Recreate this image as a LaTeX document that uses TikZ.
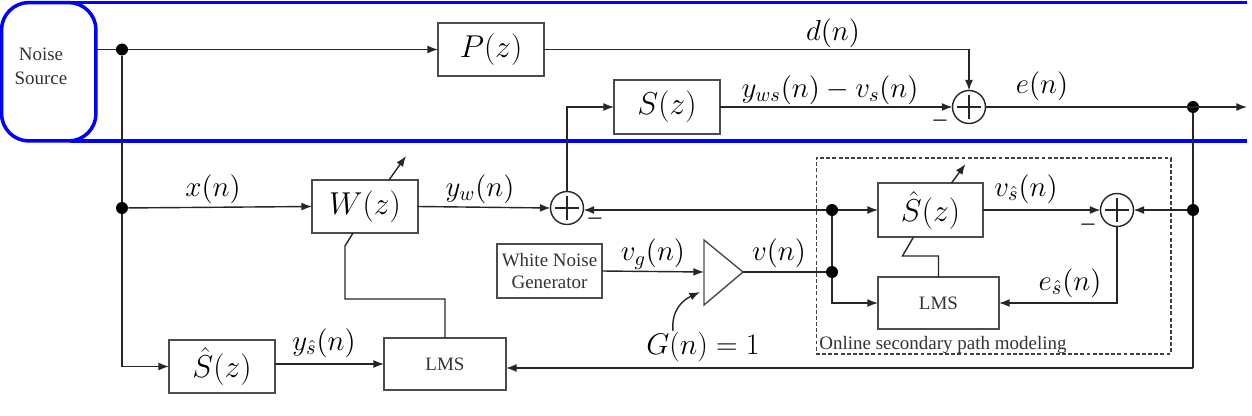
\RequirePackage{fix-cm}
\documentclass[tikz,border=0pt]{standalone}
\usepackage{fontspec}
\newfontfamily\tms{Liberation Serif}
\usetikzlibrary{arrows.meta,calc}
\begin{document}
\begin{tikzpicture}[x=0.02cm,y=-0.02cm,
  blk/.style={draw=black!70, line width=0.8pt, fill=white, inner sep=0, outer sep=0,
    font=\fontsize{18}{21}\selectfont},
  sm/.style={font=\tms\fontsize{10.8}{13.5}\selectfont, text=black!80, align=center},
  lab/.style={font=\fontsize{16.5}{19}\selectfont, inner sep=0},
  conn/.style={line width=0.8pt, draw=black!85},
  arr/.style={conn, -{Latex[length=6pt,width=4.5pt]}},
  sumc/.style={circle, draw=black!85, line width=0.8pt, fill=white, minimum size=0.66cm, inner sep=0, outer sep=0,
    path picture={\draw[line width=0.7pt]
      ([xshift=-0.24cm]path picture bounding box.center) -- ([xshift=0.24cm]path picture bounding box.center)
      ([yshift=-0.24cm]path picture bounding box.center) -- ([yshift=0.24cm]path picture bounding box.center);}},
  dot/.style={circle, fill=black, inner sep=0, minimum size=0.24cm},
  minus/.style={font=\fontsize{11}{13}\selectfont\boldmath, inner sep=0},
  blueline/.style={draw=blue, line width=2pt},
]
\useasboundingbox (0,0) rectangle (1252,416);

% noise source band
\node[draw=blue, line width=2pt, rounded corners=0.55cm, minimum width=1.89cm, minimum height=2.77cm, outer sep=0] (ns) at (48.75,71.75) {};
\node[sm] (nst) at (41,66) {Noise\\Source};
\draw[blueline] (70,2.5) -- (1247,2.5);
\draw[blueline] (70,141) -- (1247,141);

% blocks
\node[blk, minimum width=2.12cm, minimum height=1.06cm] (P) at (491,49.5) {$P(z)$};
\node[blk, minimum width=2.12cm, minimum height=1.08cm] (S) at (667,107) {$S(z)$};
\node[blk, minimum width=2.12cm, minimum height=1.06cm] (W) at (365,206.5) {$W(z)$};
\node[blk, minimum width=2.10cm, minimum height=1.08cm] (Sh1) at (930.5,210) {$\hat S(z)$};
\node[blk, minimum width=2.42cm, minimum height=1.04cm, font=\tms\fontsize{10.8}{13}\selectfont, text=black!80] (LMS2) at (938.5,303) {LMS};
\node[blk, minimum width=2.12cm, minimum height=1.06cm] (Sh2) at (222,366.5) {$\hat S(z)$};
\node[blk, minimum width=2.44cm, minimum height=1.04cm, font=\tms\fontsize{10.8}{13}\selectfont, text=black!80] (LMS1) at (445,364) {LMS};
\node[blk, minimum width=2.10cm, minimum height=1.08cm, font=\tms\fontsize{10.8}{13}\selectfont, text=black!80, align=center] (WNG) at (549.5,271) {White Noise\\Generator};

% amplifier
\draw[draw=black!70, line width=0.8pt] (704,240) -- (743,272) -- (704,305) -- cycle;
\coordinate (ampin) at (704,272);
\coordinate (ampout) at (743,272);

% sums
\node[sumc] (s0) at (969,107) {};
\node[sumc] (s1) at (567,208) {};
\node[sumc] (s2) at (1117,210) {};

% dots
\node[dot] (dA) at (122,49.5) {};
\node[dot] (dB) at (122,208) {};
\node[dot] (dC) at (1193,107) {};
\node[dot] (dD) at (1193,210) {};
\node[dot] (dE) at (832,210) {};
\node[dot] (dF) at (832,272) {};
\coordinate (out) at (1247,107);
\coordinate (fb) at (1193,368);
\coordinate (wk) at (345,299);
\coordinate (gs) at (673,331);

% dashed box
\node[draw=black!75, dash pattern=on 2.2pt off 1.3pt, line width=0.6pt, minimum width=7.1cm, minimum height=3.92cm, inner sep=0] (osp) at (993.5,256) {};
\node[sm, anchor=base west, inner sep=0] (ospt) at (819,349) {Online secondary path modeling};

% connections
\draw[conn] (ns.east |- dA) -- (dA);
\draw[arr] (dA) -- (P.west);
\draw[arr] (P.east) -| (s0.north);
\draw[arr] (S.east) -- (s0.west);
\draw[arr] (s0.east) -- (out);
\draw[conn] (dA) -- (dB);
\draw[arr] (dB) -- (W.west);
\draw[arr] (dB) |- (Sh2.west);
\draw[arr] (W.east) -- (s1.west);
\draw[arr] (s1.north) |- (S.west);
\draw[arr] (dE) -- (dE -| s1.east);
\draw[arr] (dE) -- (Sh1.west);
\draw[conn] (dE) -- (dF);
\draw[arr] (dF) |- (LMS2.west);
\draw[conn] (ampout) -- (dF);
\draw[arr] (WNG.east) -- (ampin);
\draw[arr] (Sh1.east) -- (s2.west);
\draw[arr] (dD) -- (s2.east);
\draw[conn] (dC) -- (dD);
\draw[conn] (dD) -- (fb);
\draw[arr] (fb) -- (fb -| LMS1.east);
\draw[arr] (s2.south) |- (LMS2.east);
\draw[arr] (Sh2.east |- LMS1.west) -- (LMS1.west);
\draw[conn] (LMS1.north) |- (wk) -- (345,246) -- ($(W.south)+(-12,0)$);
\draw[conn] (LMS2.north) -- ++(0,-21) -- ++(-36,0) -- ($(Sh1.south)+(-17,0)$);
\draw[arr] ($(W.north)+(24,0)$) -- ++(17,-24);
\draw[arr] ($(Sh1.north)+(21,0)$) -- ++(14,-19);
\draw[arr] (gs) .. controls (671,310) and (683,300) .. (700,292);

% labels
\node[lab] (ld) at (833,33) {$d(n)$};
\node[lab] (lyws) at (830,90) {$y_{ws}(n)-v_s(n)$};
\node[lab] (le) at (1042,86) {$e(n)$};
\node[lab] (lx) at (213,189) {$x(n)$};
\node[lab] (lyw) at (480,189) {$y_w(n)$};
\node[lab] (lvg) at (653,254) {$v_g(n)$};
\node[lab] (lv) at (779,253) {$v(n)$};
\node[lab, font=\fontsize{17}{19}\selectfont] (lG) at (703,347) {$G(n)=1$};
\node[lab] (lvs) at (1026,189) {$v_{\hat s}(n)$};
\node[lab] (les) at (1070,283) {$e_{\hat s}(n)$};
\node[lab] (lys) at (324,343) {$y_{\hat s}(n)$};
\node[minus] (m0) at (940,121) {$-$};
\node[minus] (m1) at (595,219) {$-$};
\node[minus] (m2) at (1088,225) {$-$};
\end{tikzpicture}
\end{document}
